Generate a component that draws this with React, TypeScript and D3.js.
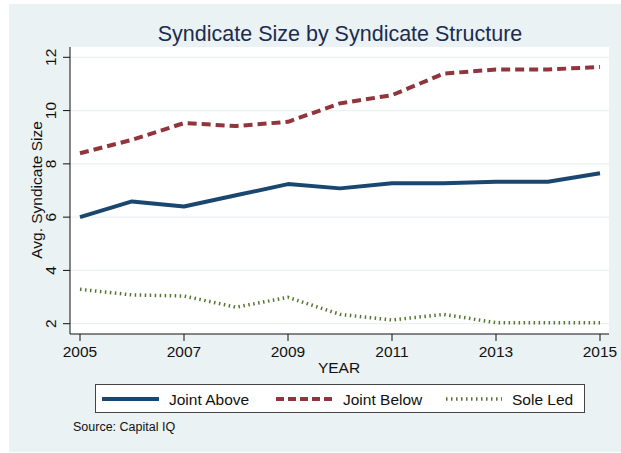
import React from 'react';
import * as d3 from 'd3';

// data
const years = [2005, 2006, 2007, 2008, 2009, 2010, 2011, 2012, 2013, 2014, 2015];
const jointAbove = [6.0, 6.59, 6.4, 6.82, 7.24, 7.08, 7.27, 7.27, 7.33, 7.33, 7.65];
const jointBelow = [8.4, 8.9, 9.53, 9.42, 9.58, 10.27, 10.58, 11.39, 11.54, 11.54, 11.64];
const soleLed = [3.29, 3.08, 3.04, 2.62, 2.99, 2.35, 2.14, 2.35, 2.04, 2.04, 2.04];
const xTicks = [2005, 2007, 2009, 2011, 2013, 2015];
const yTicks = [2, 4, 6, 8, 10, 12];
const seriesNames = ['Joint Above', 'Joint Below', 'Sole Led'];

const width = 621;
const height = 453;
const font = 'Liberation Sans, Arial, sans-serif';

const plot = { left: 70, right: 609, top: 47, bottom: 334 };

const styles = [
  { color: '#1a476f', dash: undefined as string | undefined, w: 4 },
  { color: '#90353b', dash: '9,5', w: 4 },
  { color: '#55752f', dash: '1.5,3.5', w: 3.5 },
];

export default function App() {
  const x = d3.scaleLinear().domain([2005, 2015]).range([80, 600]);
  const y = d3.scaleLinear().domain([2, 12]).range([323.7, 57.3]);

  const line = d3
    .line<number>()
    .x((_, i) => x(years[i]))
    .y((d) => y(d));

  const allSeries = [jointAbove, jointBelow, soleLed];

  // legend layout
  const legendItems = [
    { x1: 102, x2: 159, tx: 169 },
    { x1: 276, x2: 333, tx: 343 },
    { x1: 446, x2: 502, tx: 512 },
  ];
  const legendY = 399;

  return (
    <svg
      width={width}
      height={height}
      style={{ position: 'absolute', left: 0, top: 0, background: '#ffffff' }}
      fontFamily={font}
    >
      <rect x={9} y={4} width={width - 9} height={448} fill="#eaf2f3" />
      <rect
        x={plot.left}
        y={plot.top}
        width={plot.right - plot.left}
        height={plot.bottom - plot.top}
        fill="#ffffff"
      />

      {/* gridlines */}
      {yTicks.map((t) => (
        <line
          key={'g' + t}
          x1={plot.left}
          x2={plot.right}
          y1={y(t)}
          y2={y(t)}
          stroke="#eaf2f3"
          strokeWidth={1.2}
        />
      ))}

      {/* title */}
      <text x={340} y={41} textAnchor="middle" fontSize={21.5} fill="#1c2b50">
        Syndicate Size by Syndicate Structure
      </text>

      {/* series */}
      {allSeries.map((s, i) => (
        <path
          key={'s' + i}
          d={line(s) || ''}
          fill="none"
          stroke={styles[i].color}
          strokeWidth={styles[i].w}
          strokeDasharray={styles[i].dash}
          strokeLinejoin="round"
        />
      ))}

      {/* axes */}
      <line x1={plot.left} x2={plot.left} y1={plot.top} y2={plot.bottom} stroke="#111" strokeWidth={1} />
      <line x1={plot.left} x2={plot.right} y1={plot.bottom} y2={plot.bottom} stroke="#111" strokeWidth={1} />

      {yTicks.map((t) => (
        <g key={'y' + t}>
          <line x1={plot.left - 7} x2={plot.left} y1={y(t)} y2={y(t)} stroke="#111" strokeWidth={1} />
          <text
            transform={`translate(56,${y(t)}) rotate(-90)`}
            textAnchor="middle"
            fontSize={15.5}
            fill="#111"
          >
            {t}
          </text>
        </g>
      ))}

      {xTicks.map((t) => (
        <g key={'x' + t}>
          <line x1={x(t)} x2={x(t)} y1={plot.bottom} y2={plot.bottom + 7} stroke="#111" strokeWidth={1} />
          <text x={x(t)} y={357} textAnchor="middle" fontSize={15.5} fill="#111">
            {t}
          </text>
        </g>
      ))}

      <text x={339} y={373} textAnchor="middle" fontSize={15.5} fill="#111">
        YEAR
      </text>
      <text
        transform={`translate(42,190) rotate(-90)`}
        textAnchor="middle"
        fontSize={15.5}
        fill="#111"
      >
        Avg. Syndicate Size
      </text>

      {/* legend */}
      <rect x={95.5} y={384.5} width={489} height={28} fill="#ffffff" stroke="#444" strokeWidth={1} />
      {legendItems.map((l, i) => (
        <g key={'l' + i}>
          <line
            x1={l.x1}
            x2={l.x2}
            y1={legendY}
            y2={legendY}
            stroke={styles[i].color}
            strokeWidth={styles[i].w}
            strokeDasharray={i === 1 ? '8,4' : styles[i].dash}
          />
          <text x={l.tx} y={legendY + 5.5} fontSize={15.5} fill="#111">
            {seriesNames[i]}
          </text>
        </g>
      ))}

      <text x={73} y={431} fontSize={12.5} fill="#111">
        Source: Capital IQ
      </text>
    </svg>
  );
}
